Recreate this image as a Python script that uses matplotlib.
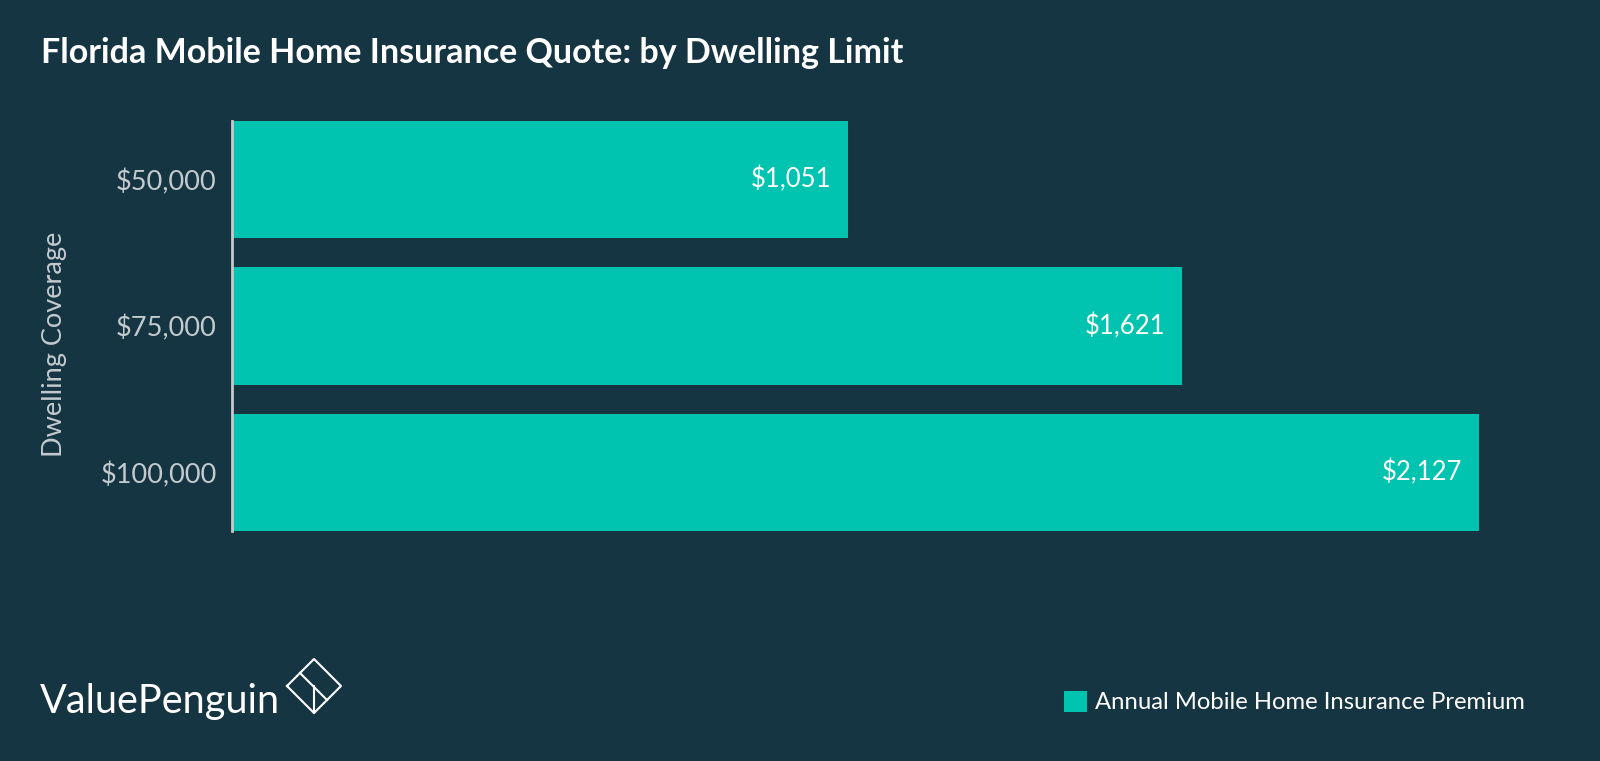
import matplotlib.pyplot as plt
from matplotlib.lines import Line2D

coverage = ['$50,000', '$75,000', '$100,000']
premium = [1051, 1621, 2127]
series_name = 'Annual Mobile Home Insurance Premium'

bg = '#163542'
teal = '#00c4b0'
grey = '#c3cbcf'

plt.rcParams['font.family'] = ['Lato', 'DejaVu Sans']

fig = plt.figure(figsize=(16, 7.61), dpi=100, facecolor=bg)
ax = fig.add_axes([232 / 1600, 1 - 531 / 761, 1348 / 1600, 410 / 761])
ax.set_facecolor(bg)

y = list(range(len(coverage)))
bars = ax.barh(y, premium, height=0.8, color=teal, label=series_name)
ax.set_xlim(0, 2300)
ax.set_ylim(2.4, -0.4)

for b, v in zip(bars, premium):
    ax.text(b.get_width() - 28, b.get_y() + b.get_height() / 2, '${:,}'.format(v),
            ha='right', va='center', color='white', fontsize=18.5)

ax.set_yticks(y)
ax.set_yticklabels(coverage, color=grey, fontsize=19.5)
ax.tick_params(axis='y', length=0, pad=11)
ax.set_xticks([])
for s in ['top', 'right', 'bottom']:
    ax.spines[s].set_visible(False)
ax.spines['left'].set_color('#c8c8c8')
ax.spines['left'].set_linewidth(2)
ax.set_ylabel('Dwelling Coverage', color=grey, fontsize=19.5)
ax.yaxis.set_label_coords(-0.1224, 0.454)

fig.text(41 / 1600, 1 - 63 / 761, 'Florida Mobile Home Insurance Quote: by Dwelling Limit',
         color='white', fontsize=24.5, fontweight='bold', ha='left', va='baseline')

leg = fig.legend(handles=[bars], labels=[series_name], loc='center left',
                 bbox_to_anchor=(1042 / 1600, 1 - 702 / 761), frameon=False,
                 fontsize=17.2, handlelength=1.0, handleheight=1.0, handletextpad=0.3)
for t in leg.get_texts():
    t.set_color('white')

# logo
fig.text(40 / 1600, 1 - 713 / 761, 'ValuePenguin', color='white', fontsize=28.5,
         ha='left', va='baseline')
pts = [(287, 686), (314, 659), (341, 686), (314, 713), (287, 686)]
fig.lines.append(Line2D([p[0] / 1600 for p in pts], [1 - p[1] / 761 for p in pts],
                        transform=fig.transFigure, color='white', lw=1.5))
inner = [(300, 673), (327, 700)]
fig.lines.append(Line2D([p[0] / 1600 for p in inner], [1 - p[1] / 761 for p in inner],
                        transform=fig.transFigure, color='white', lw=1.5))
inner2 = [(314, 686), (314, 713)]
fig.lines.append(Line2D([p[0] / 1600 for p in inner2], [1 - p[1] / 761 for p in inner2],
                        transform=fig.transFigure, color='white', lw=1.5))

fig.savefig('out.png', dpi=100, facecolor=bg)
